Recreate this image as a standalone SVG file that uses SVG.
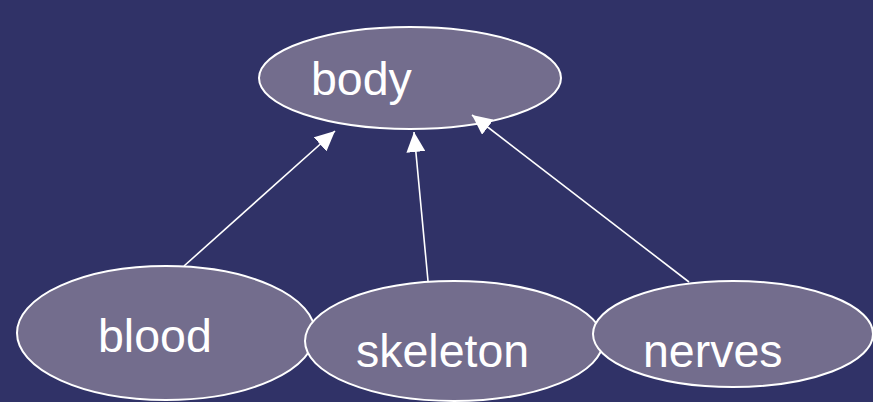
<svg xmlns="http://www.w3.org/2000/svg" width="873" height="402" viewBox="0 0 873 402">
<style>
.node ellipse{fill:#736d8d;stroke:#ffffff;stroke-width:2}
.node text{fill:#ffffff;font-family:"Liberation Sans",Arial,sans-serif;font-size:46.5px}
.edge{stroke:#ffffff;stroke-width:1.6;fill:none;marker-end:url(#arrow)}
</style>
<defs>
<marker id="arrow" markerUnits="userSpaceOnUse" markerWidth="20" markerHeight="19" refX="20" refY="9.5" orient="auto" viewBox="0 0 20 19">
<path d="M0,0 L20,9.5 L0,19 z" fill="#ffffff"/>
</marker>
</defs>
<rect width="873" height="402" fill="#303267"/>
<g id="body" class="node">
<ellipse cx="410" cy="78" rx="151" ry="51"/>
<text x="311" y="95">body</text>
</g>
<g id="blood" class="node">
<ellipse cx="166" cy="333" rx="149" ry="67"/>
<text x="98" y="352">blood</text>
</g>
<g id="skeleton" class="node">
<ellipse cx="454" cy="341" rx="149" ry="60"/>
<text x="356" y="367">skeleton</text>
</g>
<g id="nerves" class="node">
<ellipse cx="733" cy="334" rx="140" ry="53"/>
<text x="643" y="367">nerves</text>
</g>
<g id="connectors">
<line class="edge" x1="184" y1="266" x2="335" y2="131"/>
<line class="edge" x1="428" y1="281" x2="414" y2="132"/>
<line class="edge" x1="689" y1="282" x2="472" y2="115"/>
</g>
</svg>
